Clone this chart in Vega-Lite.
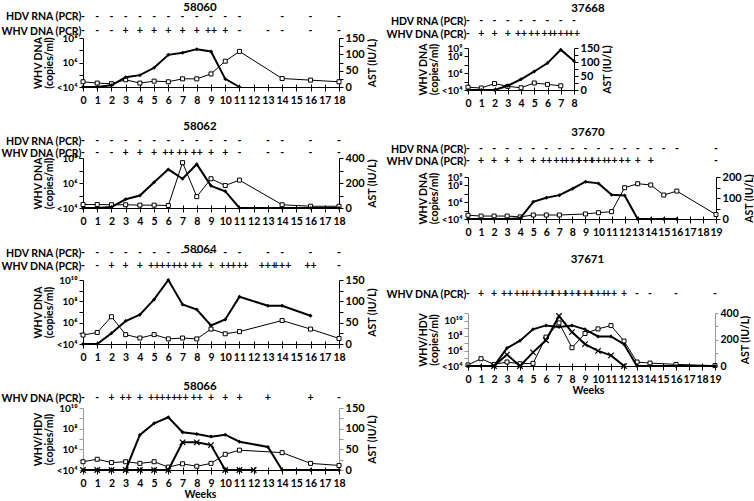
{
"$schema": "https://vega.github.io/schema/vega-lite/v6.json",
"background": "white",
"padding": {"left": 0, "top": 1, "right": 0, "bottom": 0},
"datasets": {
"m": [
{"animal":"58060","week":0,"measure":"WHV","value":10000},
{"animal":"58060","week":1,"measure":"WHV","value":10000},
{"animal":"58060","week":2,"measure":"WHV","value":13800},
{"animal":"58060","week":3,"measure":"WHV","value":63000},
{"animal":"58060","week":4,"measure":"WHV","value":93000},
{"animal":"58060","week":5,"measure":"WHV","value":370000},
{"animal":"58060","week":6,"measure":"WHV","value":4200000},
{"animal":"58060","week":7,"measure":"WHV","value":6300000},
{"animal":"58060","week":8,"measure":"WHV","value":12300000},
{"animal":"58060","week":9,"measure":"WHV","value":7900000},
{"animal":"58060","week":10,"measure":"WHV","value":46000},
{"animal":"58060","week":11,"measure":"WHV","value":10000},
{"animal":"58060","week":0,"measure":"AST","value":16},
{"animal":"58060","week":1,"measure":"AST","value":12},
{"animal":"58060","week":2,"measure":"AST","value":10},
{"animal":"58060","week":3,"measure":"AST","value":22},
{"animal":"58060","week":4,"measure":"AST","value":12},
{"animal":"58060","week":5,"measure":"AST","value":18},
{"animal":"58060","week":6,"measure":"AST","value":16},
{"animal":"58060","week":7,"measure":"AST","value":25},
{"animal":"58060","week":8,"measure":"AST","value":25},
{"animal":"58060","week":9,"measure":"AST","value":40},
{"animal":"58060","week":10,"measure":"AST","value":79},
{"animal":"58060","week":11,"measure":"AST","value":109},
{"animal":"58060","week":14,"measure":"AST","value":26},
{"animal":"58060","week":16,"measure":"AST","value":21},
{"animal":"58060","week":18,"measure":"AST","value":16},
{"animal":"58062","week":0,"measure":"WHV","value":10000},
{"animal":"58062","week":1,"measure":"WHV","value":10000},
{"animal":"58062","week":2,"measure":"WHV","value":12000},
{"animal":"58062","week":3,"measure":"WHV","value":50000},
{"animal":"58062","week":4,"measure":"WHV","value":100000},
{"animal":"58062","week":5,"measure":"WHV","value":1150000},
{"animal":"58062","week":6,"measure":"WHV","value":12300000},
{"animal":"58062","week":7,"measure":"WHV","value":2200000},
{"animal":"58062","week":8,"measure":"WHV","value":32000000},
{"animal":"58062","week":9,"measure":"WHV","value":590000},
{"animal":"58062","week":10,"measure":"WHV","value":220000},
{"animal":"58062","week":11,"measure":"WHV","value":10000},
{"animal":"58062","week":14,"measure":"WHV","value":10000},
{"animal":"58062","week":16,"measure":"WHV","value":10000},
{"animal":"58062","week":18,"measure":"WHV","value":10000},
{"animal":"58062","week":0,"measure":"AST","value":28},
{"animal":"58062","week":1,"measure":"AST","value":28},
{"animal":"58062","week":2,"measure":"AST","value":26},
{"animal":"58062","week":3,"measure":"AST","value":26},
{"animal":"58062","week":4,"measure":"AST","value":23},
{"animal":"58062","week":5,"measure":"AST","value":23},
{"animal":"58062","week":6,"measure":"AST","value":20},
{"animal":"58062","week":7,"measure":"AST","value":363},
{"animal":"58062","week":8,"measure":"AST","value":91},
{"animal":"58062","week":9,"measure":"AST","value":234},
{"animal":"58062","week":10,"measure":"AST","value":180},
{"animal":"58062","week":11,"measure":"AST","value":223},
{"animal":"58062","week":14,"measure":"AST","value":26},
{"animal":"58062","week":16,"measure":"AST","value":14},
{"animal":"58062","week":18,"measure":"AST","value":14},
{"animal":"58064","week":0,"measure":"WHV","value":10000},
{"animal":"58064","week":1,"measure":"WHV","value":10000},
{"animal":"58064","week":2,"measure":"WHV","value":100000},
{"animal":"58064","week":3,"measure":"WHV","value":1400000},
{"animal":"58064","week":4,"measure":"WHV","value":5500000},
{"animal":"58064","week":5,"measure":"WHV","value":150000000},
{"animal":"58064","week":6,"measure":"WHV","value":10000000000},
{"animal":"58064","week":7,"measure":"WHV","value":51000000},
{"animal":"58064","week":8,"measure":"WHV","value":17000000},
{"animal":"58064","week":9,"measure":"WHV","value":540000},
{"animal":"58064","week":10,"measure":"WHV","value":2000000},
{"animal":"58064","week":11,"measure":"WHV","value":270000000},
{"animal":"58064","week":13,"measure":"WHV","value":38000000},
{"animal":"58064","week":14,"measure":"WHV","value":38000000},
{"animal":"58064","week":16,"measure":"WHV","value":4400000},
{"animal":"58064","week":0,"measure":"AST","value":21},
{"animal":"58064","week":1,"measure":"AST","value":27},
{"animal":"58064","week":2,"measure":"AST","value":64},
{"animal":"58064","week":3,"measure":"AST","value":22},
{"animal":"58064","week":4,"measure":"AST","value":14},
{"animal":"58064","week":5,"measure":"AST","value":22},
{"animal":"58064","week":6,"measure":"AST","value":12},
{"animal":"58064","week":7,"measure":"AST","value":14},
{"animal":"58064","week":8,"measure":"AST","value":12},
{"animal":"58064","week":9,"measure":"AST","value":35},
{"animal":"58064","week":10,"measure":"AST","value":24},
{"animal":"58064","week":11,"measure":"AST","value":29},
{"animal":"58064","week":14,"measure":"AST","value":55},
{"animal":"58064","week":16,"measure":"AST","value":35},
{"animal":"58064","week":18,"measure":"AST","value":13},
{"animal":"58066","week":0,"measure":"WHV","value":10000},
{"animal":"58066","week":1,"measure":"WHV","value":10000},
{"animal":"58066","week":2,"measure":"WHV","value":10000},
{"animal":"58066","week":3,"measure":"WHV","value":10000},
{"animal":"58066","week":4,"measure":"WHV","value":25000000},
{"animal":"58066","week":5,"measure":"WHV","value":330000000},
{"animal":"58066","week":6,"measure":"WHV","value":1260000000},
{"animal":"58066","week":7,"measure":"WHV","value":45000000},
{"animal":"58066","week":8,"measure":"WHV","value":30000000},
{"animal":"58066","week":9,"measure":"WHV","value":17000000},
{"animal":"58066","week":10,"measure":"WHV","value":26000000},
{"animal":"58066","week":11,"measure":"WHV","value":5500000},
{"animal":"58066","week":13,"measure":"WHV","value":1700000},
{"animal":"58066","week":14,"measure":"WHV","value":10000},
{"animal":"58066","week":16,"measure":"WHV","value":10000},
{"animal":"58066","week":18,"measure":"WHV","value":10000},
{"animal":"58066","week":0,"measure":"HDV","value":10000},
{"animal":"58066","week":1,"measure":"HDV","value":10000},
{"animal":"58066","week":2,"measure":"HDV","value":10000},
{"animal":"58066","week":3,"measure":"HDV","value":10000},
{"animal":"58066","week":4,"measure":"HDV","value":10000},
{"animal":"58066","week":5,"measure":"HDV","value":10000},
{"animal":"58066","week":6,"measure":"HDV","value":10000},
{"animal":"58066","week":7,"measure":"HDV","value":4800000},
{"animal":"58066","week":8,"measure":"HDV","value":4800000},
{"animal":"58066","week":9,"measure":"HDV","value":2600000},
{"animal":"58066","week":10,"measure":"HDV","value":10000},
{"animal":"58066","week":11,"measure":"HDV","value":10000},
{"animal":"58066","week":12,"measure":"HDV","value":10000},
{"animal":"58066","week":0,"measure":"AST","value":20},
{"animal":"58066","week":1,"measure":"AST","value":26},
{"animal":"58066","week":2,"measure":"AST","value":18},
{"animal":"58066","week":3,"measure":"AST","value":20},
{"animal":"58066","week":4,"measure":"AST","value":16},
{"animal":"58066","week":5,"measure":"AST","value":20},
{"animal":"58066","week":6,"measure":"AST","value":7},
{"animal":"58066","week":7,"measure":"AST","value":15},
{"animal":"58066","week":8,"measure":"AST","value":9},
{"animal":"58066","week":9,"measure":"AST","value":16},
{"animal":"58066","week":10,"measure":"AST","value":38},
{"animal":"58066","week":11,"measure":"AST","value":48},
{"animal":"58066","week":14,"measure":"AST","value":42},
{"animal":"58066","week":16,"measure":"AST","value":16},
{"animal":"58066","week":18,"measure":"AST","value":11},
{"animal":"37668","week":0,"measure":"WHV","value":10000},
{"animal":"37668","week":1,"measure":"WHV","value":10000},
{"animal":"37668","week":2,"measure":"WHV","value":10000},
{"animal":"37668","week":3,"measure":"WHV","value":32000},
{"animal":"37668","week":4,"measure":"WHV","value":190000},
{"animal":"37668","week":5,"measure":"WHV","value":1600000},
{"animal":"37668","week":6,"measure":"WHV","value":16000000},
{"animal":"37668","week":7,"measure":"WHV","value":630000000},
{"animal":"37668","week":8,"measure":"WHV","value":28000000},
{"animal":"37668","week":0,"measure":"AST","value":10},
{"animal":"37668","week":1,"measure":"AST","value":7},
{"animal":"37668","week":2,"measure":"AST","value":23},
{"animal":"37668","week":3,"measure":"AST","value":13},
{"animal":"37668","week":4,"measure":"AST","value":8},
{"animal":"37668","week":5,"measure":"AST","value":25},
{"animal":"37668","week":6,"measure":"AST","value":20},
{"animal":"37668","week":7,"measure":"AST","value":15},
{"animal":"37670","week":0,"measure":"WHV","value":10000},
{"animal":"37670","week":1,"measure":"WHV","value":10000},
{"animal":"37670","week":2,"measure":"WHV","value":10000},
{"animal":"37670","week":3,"measure":"WHV","value":10000},
{"animal":"37670","week":4,"measure":"WHV","value":12000},
{"animal":"37670","week":5,"measure":"WHV","value":1100000},
{"animal":"37670","week":6,"measure":"WHV","value":3300000},
{"animal":"37670","week":7,"measure":"WHV","value":6900000},
{"animal":"37670","week":8,"measure":"WHV","value":40000000},
{"animal":"37670","week":9,"measure":"WHV","value":275000000},
{"animal":"37670","week":10,"measure":"WHV","value":174000000},
{"animal":"37670","week":11,"measure":"WHV","value":7600000},
{"animal":"37670","week":12,"measure":"WHV","value":6300000},
{"animal":"37670","week":13,"measure":"WHV","value":10000},
{"animal":"37670","week":14,"measure":"WHV","value":10000},
{"animal":"37670","week":15,"measure":"WHV","value":10000},
{"animal":"37670","week":16,"measure":"WHV","value":10000},
{"animal":"37670","week":0,"measure":"AST","value":18},
{"animal":"37670","week":1,"measure":"AST","value":14},
{"animal":"37670","week":2,"measure":"AST","value":14},
{"animal":"37670","week":3,"measure":"AST","value":14},
{"animal":"37670","week":4,"measure":"AST","value":10},
{"animal":"37670","week":5,"measure":"AST","value":19},
{"animal":"37670","week":6,"measure":"AST","value":19},
{"animal":"37670","week":7,"measure":"AST","value":19},
{"animal":"37670","week":9,"measure":"AST","value":24},
{"animal":"37670","week":10,"measure":"AST","value":30},
{"animal":"37670","week":11,"measure":"AST","value":35},
{"animal":"37670","week":12,"measure":"AST","value":149},
{"animal":"37670","week":13,"measure":"AST","value":168},
{"animal":"37670","week":14,"measure":"AST","value":162},
{"animal":"37670","week":15,"measure":"AST","value":114},
{"animal":"37670","week":16,"measure":"AST","value":133},
{"animal":"37670","week":19,"measure":"AST","value":21},
{"animal":"37671","week":0,"measure":"WHV","value":10000},
{"animal":"37671","week":1,"measure":"WHV","value":10000},
{"animal":"37671","week":2,"measure":"WHV","value":10000},
{"animal":"37671","week":3,"measure":"WHV","value":2300000},
{"animal":"37671","week":4,"measure":"WHV","value":22000000},
{"animal":"37671","week":5,"measure":"WHV","value":700000000},
{"animal":"37671","week":6,"measure":"WHV","value":2300000000},
{"animal":"37671","week":7,"measure":"WHV","value":1400000000},
{"animal":"37671","week":8,"measure":"WHV","value":2300000000},
{"animal":"37671","week":9,"measure":"WHV","value":700000000},
{"animal":"37671","week":10,"measure":"WHV","value":80000000},
{"animal":"37671","week":11,"measure":"WHV","value":80000000},
{"animal":"37671","week":12,"measure":"WHV","value":7600000},
{"animal":"37671","week":13,"measure":"WHV","value":10000},
{"animal":"37671","week":14,"measure":"WHV","value":10000},
{"animal":"37671","week":16,"measure":"WHV","value":10000},
{"animal":"37671","week":19,"measure":"WHV","value":10000},
{"animal":"37671","week":2,"measure":"HDV","value":10000},
{"animal":"37671","week":3,"measure":"HDV","value":320000},
{"animal":"37671","week":4,"measure":"HDV","value":10000},
{"animal":"37671","week":5,"measure":"HDV","value":630000},
{"animal":"37671","week":6,"measure":"HDV","value":25000000},
{"animal":"37671","week":7,"measure":"HDV","value":40000000000},
{"animal":"37671","week":8,"measure":"HDV","value":300000000},
{"animal":"37671","week":9,"measure":"HDV","value":7900000},
{"animal":"37671","week":10,"measure":"HDV","value":1000000},
{"animal":"37671","week":11,"measure":"HDV","value":250000},
{"animal":"37671","week":12,"measure":"HDV","value":10000},
{"animal":"37671","week":0,"measure":"AST","value":8},
{"animal":"37671","week":1,"measure":"AST","value":55},
{"animal":"37671","week":2,"measure":"AST","value":12},
{"animal":"37671","week":3,"measure":"AST","value":30},
{"animal":"37671","week":4,"measure":"AST","value":17},
{"animal":"37671","week":5,"measure":"AST","value":20},
{"animal":"37671","week":6,"measure":"AST","value":218},
{"animal":"37671","week":7,"measure":"AST","value":325},
{"animal":"37671","week":8,"measure":"AST","value":138},
{"animal":"37671","week":9,"measure":"AST","value":245},
{"animal":"37671","week":10,"measure":"AST","value":280},
{"animal":"37671","week":11,"measure":"AST","value":305},
{"animal":"37671","week":12,"measure":"AST","value":188},
{"animal":"37671","week":13,"measure":"AST","value":30},
{"animal":"37671","week":14,"measure":"AST","value":22},
{"animal":"37671","week":16,"measure":"AST","value":12},
{"animal":"37671","week":19,"measure":"AST","value":3}
],
"pcr": [
{"animal":"58060","assay":"HDV RNA (PCR)","week":0,"result":"-"},
{"animal":"58060","assay":"HDV RNA (PCR)","week":1,"result":"-"},
{"animal":"58060","assay":"HDV RNA (PCR)","week":2,"result":"-"},
{"animal":"58060","assay":"HDV RNA (PCR)","week":3,"result":"-"},
{"animal":"58060","assay":"HDV RNA (PCR)","week":4,"result":"-"},
{"animal":"58060","assay":"HDV RNA (PCR)","week":5,"result":"-"},
{"animal":"58060","assay":"HDV RNA (PCR)","week":6,"result":"-"},
{"animal":"58060","assay":"HDV RNA (PCR)","week":7,"result":"-"},
{"animal":"58060","assay":"HDV RNA (PCR)","week":8,"result":"-"},
{"animal":"58060","assay":"HDV RNA (PCR)","week":9,"result":"-"},
{"animal":"58060","assay":"HDV RNA (PCR)","week":10,"result":"-"},
{"animal":"58060","assay":"HDV RNA (PCR)","week":11,"result":"-"},
{"animal":"58060","assay":"HDV RNA (PCR)","week":14,"result":"-"},
{"animal":"58060","assay":"HDV RNA (PCR)","week":16,"result":"-"},
{"animal":"58060","assay":"HDV RNA (PCR)","week":18,"result":"-"},
{"animal":"58060","assay":"WHV DNA (PCR)","week":0,"result":"-"},
{"animal":"58060","assay":"WHV DNA (PCR)","week":1,"result":"-"},
{"animal":"58060","assay":"WHV DNA (PCR)","week":2,"result":"-"},
{"animal":"58060","assay":"WHV DNA (PCR)","week":3,"result":"+"},
{"animal":"58060","assay":"WHV DNA (PCR)","week":4,"result":"+"},
{"animal":"58060","assay":"WHV DNA (PCR)","week":5,"result":"+"},
{"animal":"58060","assay":"WHV DNA (PCR)","week":6,"result":"+"},
{"animal":"58060","assay":"WHV DNA (PCR)","week":7,"result":"+"},
{"animal":"58060","assay":"WHV DNA (PCR)","week":8,"result":"+"},
{"animal":"58060","assay":"WHV DNA (PCR)","week":9,"result":"++"},
{"animal":"58060","assay":"WHV DNA (PCR)","week":10,"result":"+"},
{"animal":"58060","assay":"WHV DNA (PCR)","week":11,"result":"-"},
{"animal":"58060","assay":"WHV DNA (PCR)","week":13,"result":"-"},
{"animal":"58060","assay":"WHV DNA (PCR)","week":14,"result":"-"},
{"animal":"58060","assay":"WHV DNA (PCR)","week":16,"result":"-"},
{"animal":"58060","assay":"WHV DNA (PCR)","week":18,"result":"-"},
{"animal":"58062","assay":"HDV RNA (PCR)","week":0,"result":"-"},
{"animal":"58062","assay":"HDV RNA (PCR)","week":1,"result":"-"},
{"animal":"58062","assay":"HDV RNA (PCR)","week":2,"result":"-"},
{"animal":"58062","assay":"HDV RNA (PCR)","week":3,"result":"-"},
{"animal":"58062","assay":"HDV RNA (PCR)","week":4,"result":"-"},
{"animal":"58062","assay":"HDV RNA (PCR)","week":5,"result":"-"},
{"animal":"58062","assay":"HDV RNA (PCR)","week":6,"result":"-"},
{"animal":"58062","assay":"HDV RNA (PCR)","week":7,"result":"-"},
{"animal":"58062","assay":"HDV RNA (PCR)","week":8,"result":"-"},
{"animal":"58062","assay":"HDV RNA (PCR)","week":9,"result":"-"},
{"animal":"58062","assay":"HDV RNA (PCR)","week":10,"result":"-"},
{"animal":"58062","assay":"HDV RNA (PCR)","week":11,"result":"-"},
{"animal":"58062","assay":"HDV RNA (PCR)","week":13,"result":"-"},
{"animal":"58062","assay":"HDV RNA (PCR)","week":14,"result":"-"},
{"animal":"58062","assay":"HDV RNA (PCR)","week":16,"result":"-"},
{"animal":"58062","assay":"HDV RNA (PCR)","week":18,"result":"-"},
{"animal":"58062","assay":"WHV DNA (PCR)","week":0,"result":"-"},
{"animal":"58062","assay":"WHV DNA (PCR)","week":1,"result":"-"},
{"animal":"58062","assay":"WHV DNA (PCR)","week":2,"result":"-"},
{"animal":"58062","assay":"WHV DNA (PCR)","week":3,"result":"+"},
{"animal":"58062","assay":"WHV DNA (PCR)","week":4,"result":"+"},
{"animal":"58062","assay":"WHV DNA (PCR)","week":5,"result":"+"},
{"animal":"58062","assay":"WHV DNA (PCR)","week":6,"result":"++"},
{"animal":"58062","assay":"WHV DNA (PCR)","week":7,"result":"++"},
{"animal":"58062","assay":"WHV DNA (PCR)","week":8,"result":"++"},
{"animal":"58062","assay":"WHV DNA (PCR)","week":9,"result":"+"},
{"animal":"58062","assay":"WHV DNA (PCR)","week":10,"result":"+"},
{"animal":"58062","assay":"WHV DNA (PCR)","week":11,"result":"-"},
{"animal":"58062","assay":"WHV DNA (PCR)","week":13,"result":"-"},
{"animal":"58062","assay":"WHV DNA (PCR)","week":14,"result":"-"},
{"animal":"58062","assay":"WHV DNA (PCR)","week":16,"result":"-"},
{"animal":"58062","assay":"WHV DNA (PCR)","week":18,"result":"-"},
{"animal":"58064","assay":"HDV RNA (PCR)","week":0,"result":"-"},
{"animal":"58064","assay":"HDV RNA (PCR)","week":1,"result":"-"},
{"animal":"58064","assay":"HDV RNA (PCR)","week":2,"result":"-"},
{"animal":"58064","assay":"HDV RNA (PCR)","week":3,"result":"-"},
{"animal":"58064","assay":"HDV RNA (PCR)","week":4,"result":"-"},
{"animal":"58064","assay":"HDV RNA (PCR)","week":5,"result":"-"},
{"animal":"58064","assay":"HDV RNA (PCR)","week":6,"result":"-"},
{"animal":"58064","assay":"HDV RNA (PCR)","week":7,"result":"-"},
{"animal":"58064","assay":"HDV RNA (PCR)","week":8,"result":"-"},
{"animal":"58064","assay":"HDV RNA (PCR)","week":9,"result":"-"},
{"animal":"58064","assay":"HDV RNA (PCR)","week":10,"result":"-"},
{"animal":"58064","assay":"HDV RNA (PCR)","week":11,"result":"-"},
{"animal":"58064","assay":"HDV RNA (PCR)","week":13,"result":"-"},
{"animal":"58064","assay":"HDV RNA (PCR)","week":14,"result":"-"},
{"animal":"58064","assay":"HDV RNA (PCR)","week":16,"result":"-"},
{"animal":"58064","assay":"HDV RNA (PCR)","week":18,"result":"-"},
{"animal":"58064","assay":"WHV DNA (PCR)","week":0,"result":"-"},
{"animal":"58064","assay":"WHV DNA (PCR)","week":1,"result":"-"},
{"animal":"58064","assay":"WHV DNA (PCR)","week":2,"result":"+"},
{"animal":"58064","assay":"WHV DNA (PCR)","week":3,"result":"+"},
{"animal":"58064","assay":"WHV DNA (PCR)","week":4,"result":"+"},
{"animal":"58064","assay":"WHV DNA (PCR)","week":5,"result":"++"},
{"animal":"58064","assay":"WHV DNA (PCR)","week":6,"result":"+++"},
{"animal":"58064","assay":"WHV DNA (PCR)","week":7,"result":"++"},
{"animal":"58064","assay":"WHV DNA (PCR)","week":8,"result":"++"},
{"animal":"58064","assay":"WHV DNA (PCR)","week":9,"result":"+"},
{"animal":"58064","assay":"WHV DNA (PCR)","week":10,"result":"++"},
{"animal":"58064","assay":"WHV DNA (PCR)","week":11,"result":"+++"},
{"animal":"58064","assay":"WHV DNA (PCR)","week":13,"result":"+++"},
{"animal":"58064","assay":"WHV DNA (PCR)","week":14,"result":"+++"},
{"animal":"58064","assay":"WHV DNA (PCR)","week":16,"result":"++"},
{"animal":"58064","assay":"WHV DNA (PCR)","week":18,"result":"-"},
{"animal":"58066","assay":"WHV DNA (PCR)","week":0,"result":"-"},
{"animal":"58066","assay":"WHV DNA (PCR)","week":1,"result":"-"},
{"animal":"58066","assay":"WHV DNA (PCR)","week":2,"result":"+"},
{"animal":"58066","assay":"WHV DNA (PCR)","week":3,"result":"++"},
{"animal":"58066","assay":"WHV DNA (PCR)","week":4,"result":"+"},
{"animal":"58066","assay":"WHV DNA (PCR)","week":5,"result":"++"},
{"animal":"58066","assay":"WHV DNA (PCR)","week":6,"result":"+++"},
{"animal":"58066","assay":"WHV DNA (PCR)","week":7,"result":"++"},
{"animal":"58066","assay":"WHV DNA (PCR)","week":8,"result":"++"},
{"animal":"58066","assay":"WHV DNA (PCR)","week":9,"result":"+"},
{"animal":"58066","assay":"WHV DNA (PCR)","week":10,"result":"+"},
{"animal":"58066","assay":"WHV DNA (PCR)","week":11,"result":"+"},
{"animal":"58066","assay":"WHV DNA (PCR)","week":13,"result":"+"},
{"animal":"58066","assay":"WHV DNA (PCR)","week":16,"result":"+"},
{"animal":"58066","assay":"WHV DNA (PCR)","week":18,"result":"-"},
{"animal":"37668","assay":"HDV RNA (PCR)","week":0,"result":"-"},
{"animal":"37668","assay":"HDV RNA (PCR)","week":1,"result":"-"},
{"animal":"37668","assay":"HDV RNA (PCR)","week":2,"result":"-"},
{"animal":"37668","assay":"HDV RNA (PCR)","week":3,"result":"-"},
{"animal":"37668","assay":"HDV RNA (PCR)","week":4,"result":"-"},
{"animal":"37668","assay":"HDV RNA (PCR)","week":5,"result":"-"},
{"animal":"37668","assay":"HDV RNA (PCR)","week":6,"result":"-"},
{"animal":"37668","assay":"HDV RNA (PCR)","week":7,"result":"-"},
{"animal":"37668","assay":"HDV RNA (PCR)","week":8,"result":"-"},
{"animal":"37668","assay":"WHV DNA (PCR)","week":0,"result":"-"},
{"animal":"37668","assay":"WHV DNA (PCR)","week":1,"result":"+"},
{"animal":"37668","assay":"WHV DNA (PCR)","week":2,"result":"+"},
{"animal":"37668","assay":"WHV DNA (PCR)","week":3,"result":"+"},
{"animal":"37668","assay":"WHV DNA (PCR)","week":4,"result":"++"},
{"animal":"37668","assay":"WHV DNA (PCR)","week":5,"result":"++"},
{"animal":"37668","assay":"WHV DNA (PCR)","week":6,"result":"++"},
{"animal":"37668","assay":"WHV DNA (PCR)","week":7,"result":"+++"},
{"animal":"37668","assay":"WHV DNA (PCR)","week":8,"result":"++"},
{"animal":"37670","assay":"HDV RNA (PCR)","week":0,"result":"-"},
{"animal":"37670","assay":"HDV RNA (PCR)","week":1,"result":"-"},
{"animal":"37670","assay":"HDV RNA (PCR)","week":2,"result":"-"},
{"animal":"37670","assay":"HDV RNA (PCR)","week":3,"result":"-"},
{"animal":"37670","assay":"HDV RNA (PCR)","week":4,"result":"-"},
{"animal":"37670","assay":"HDV RNA (PCR)","week":5,"result":"-"},
{"animal":"37670","assay":"HDV RNA (PCR)","week":6,"result":"-"},
{"animal":"37670","assay":"HDV RNA (PCR)","week":7,"result":"-"},
{"animal":"37670","assay":"HDV RNA (PCR)","week":8,"result":"-"},
{"animal":"37670","assay":"HDV RNA (PCR)","week":9,"result":"-"},
{"animal":"37670","assay":"HDV RNA (PCR)","week":10,"result":"-"},
{"animal":"37670","assay":"HDV RNA (PCR)","week":11,"result":"-"},
{"animal":"37670","assay":"HDV RNA (PCR)","week":12,"result":"-"},
{"animal":"37670","assay":"HDV RNA (PCR)","week":13,"result":"-"},
{"animal":"37670","assay":"HDV RNA (PCR)","week":14,"result":"-"},
{"animal":"37670","assay":"HDV RNA (PCR)","week":15,"result":"-"},
{"animal":"37670","assay":"HDV RNA (PCR)","week":16,"result":"-"},
{"animal":"37670","assay":"HDV RNA (PCR)","week":19,"result":"-"},
{"animal":"37670","assay":"WHV DNA (PCR)","week":0,"result":"-"},
{"animal":"37670","assay":"WHV DNA (PCR)","week":1,"result":"+"},
{"animal":"37670","assay":"WHV DNA (PCR)","week":2,"result":"+"},
{"animal":"37670","assay":"WHV DNA (PCR)","week":3,"result":"+"},
{"animal":"37670","assay":"WHV DNA (PCR)","week":4,"result":"+"},
{"animal":"37670","assay":"WHV DNA (PCR)","week":5,"result":"+"},
{"animal":"37670","assay":"WHV DNA (PCR)","week":6,"result":"++"},
{"animal":"37670","assay":"WHV DNA (PCR)","week":7,"result":"++"},
{"animal":"37670","assay":"WHV DNA (PCR)","week":8,"result":"+++"},
{"animal":"37670","assay":"WHV DNA (PCR)","week":9,"result":"+++"},
{"animal":"37670","assay":"WHV DNA (PCR)","week":10,"result":"+++"},
{"animal":"37670","assay":"WHV DNA (PCR)","week":11,"result":"++"},
{"animal":"37670","assay":"WHV DNA (PCR)","week":12,"result":"++"},
{"animal":"37670","assay":"WHV DNA (PCR)","week":13,"result":"+"},
{"animal":"37670","assay":"WHV DNA (PCR)","week":14,"result":"+"},
{"animal":"37670","assay":"WHV DNA (PCR)","week":19,"result":"-"},
{"animal":"37671","assay":"WHV DNA (PCR)","week":0,"result":"-"},
{"animal":"37671","assay":"WHV DNA (PCR)","week":1,"result":"+"},
{"animal":"37671","assay":"WHV DNA (PCR)","week":2,"result":"+"},
{"animal":"37671","assay":"WHV DNA (PCR)","week":3,"result":"++"},
{"animal":"37671","assay":"WHV DNA (PCR)","week":4,"result":"++"},
{"animal":"37671","assay":"WHV DNA (PCR)","week":5,"result":"+++"},
{"animal":"37671","assay":"WHV DNA (PCR)","week":6,"result":"+++"},
{"animal":"37671","assay":"WHV DNA (PCR)","week":7,"result":"+++"},
{"animal":"37671","assay":"WHV DNA (PCR)","week":8,"result":"+++"},
{"animal":"37671","assay":"WHV DNA (PCR)","week":9,"result":"+++"},
{"animal":"37671","assay":"WHV DNA (PCR)","week":10,"result":"+++"},
{"animal":"37671","assay":"WHV DNA (PCR)","week":11,"result":"++"},
{"animal":"37671","assay":"WHV DNA (PCR)","week":12,"result":"+"},
{"animal":"37671","assay":"WHV DNA (PCR)","week":13,"result":"-"},
{"animal":"37671","assay":"WHV DNA (PCR)","week":14,"result":"-"},
{"animal":"37671","assay":"WHV DNA (PCR)","week":16,"result":"-"},
{"animal":"37671","assay":"WHV DNA (PCR)","week":19,"result":"-"}
]
},
"spacing": 7,
"bounds": "full",
"resolve": {"scale": {"x": "independent", "y": "independent"}},
"hconcat": [
{
"spacing": 0,
"bounds": "flush",
"resolve": {"scale": {"x": "independent", "y": "independent"}},
"vconcat": [
{
"width": 256, "height": 30,
"data": {"name": "pcr"},
"transform": [{"filter": "datum.animal == '58060'"}],
"mark": {"type": "text"},
"encoding": {
"x": {"field": "week", "type": "quantitative", "scale": {"domain": [0, 18], "nice": false, "zero": false}, "axis": null},
"y": {"field": "assay", "type": "nominal", "scale": {"type": "point", "domain": ["HDV RNA (PCR)", "WHV DNA (PCR)"], "range": [8.5, 23], "padding": 0}, "axis": {"title": null, "domain": false, "ticks": false, "labelPadding": 2}},
"text": {"field": "result"}
}
},
{
"width": 256, "height": 49,
"title": {"text": "58060", "offset": 18.6, "dx": -11},
"data": {"name": "m"},
"transform": [{"filter": "datum.animal == '58060'"}],
"layer": [
{
"transform": [{"filter": "datum.measure == 'AST'"}],
"mark": {"type": "line", "color": "black", "strokeWidth": 1, "point": {"shape": "square", "size": 16, "filled": true, "fill": "white", "stroke": "black", "strokeWidth": 1}},
"encoding": {
"x": {"field": "week", "type": "quantitative", "scale": {"domain": [0, 18], "nice": false, "zero": false}, "axis": {"orient": "bottom", "values": [0,1,2,3,4,5,6,7,8,9,10,11,12,13,14,15,16,17,18], "title": null, "labelPadding": 4}},
"y": {"field": "value", "type": "quantitative", "scale": {"domain": [0, 150], "nice": false}, "axis": {"orient": "right", "title": "AST (IU/L)", "titleAngle": 270, "titleBaseline": "top", "titlePadding": 3, "values": [0,25,50,75,100,125,150], "labelExpr": "datum.value % 50 == 0 ? datum.label : ''", "labelFontSize": 11}}
}
},
{
"transform": [{"filter": "datum.measure == 'WHV'"}],
"mark": {"type": "line", "color": "black", "strokeWidth": 2, "point": {"shape": "diamond", "size": 16, "filled": true, "color": "black"}},
"encoding": {
"x": {"field": "week", "type": "quantitative", "axis": {"orient": "bottom", "values": [0,1,2,3,4,5,6,7,8,9,10,11,12,13,14,15,16,17,18], "labels": false, "domain": false, "tickSize": -3, "title": null}},
"y": {"field": "value", "type": "quantitative", "scale": {"type": "log", "domain": [10000, 100000000], "nice": false}, "axis": {"orient": "left", "title": ["WHV DNA", "(copies/ml)"], "titlePadding": 2, "titleLineHeight": 11, "values": [10000,100000,1000000,10000000,100000000], "labelExpr": "datum.value == 10000 ? '<10⁴' : datum.value == 1000000 ? '10⁶' : datum.value == 100000000 ? '10⁸' : ''", "labelFontSize": 10}}
}
}
],
"resolve": {"scale": {"y": "independent"}, "axis": {"x": "independent"}}
},
{
"width": 256, "height": 71,
"data": {"name": "pcr"},
"transform": [{"filter": "datum.animal == '58062'"}],
"mark": {"type": "text"},
"encoding": {
"x": {"field": "week", "type": "quantitative", "scale": {"domain": [0, 18], "nice": false, "zero": false}, "axis": null},
"y": {"field": "assay", "type": "nominal", "scale": {"type": "point", "domain": ["HDV RNA (PCR)", "WHV DNA (PCR)"], "range": [54, 66], "padding": 0}, "axis": {"title": null, "domain": false, "ticks": false, "labelPadding": 2}},
"text": {"field": "result"}
}
},
{
"width": 256, "height": 50,
"title": {"text": "58062", "offset": 20, "dx": -11},
"data": {"name": "m"},
"transform": [{"filter": "datum.animal == '58062'"}],
"layer": [
{
"transform": [{"filter": "datum.measure == 'AST'"}],
"mark": {"type": "line", "color": "black", "strokeWidth": 1, "point": {"shape": "square", "size": 16, "filled": true, "fill": "white", "stroke": "black", "strokeWidth": 1}},
"encoding": {
"x": {"field": "week", "type": "quantitative", "scale": {"domain": [0, 18], "nice": false, "zero": false}, "axis": {"orient": "bottom", "values": [0,1,2,3,4,5,6,7,8,9,10,11,12,13,14,15,16,17,18], "title": null, "labelPadding": 4}},
"y": {"field": "value", "type": "quantitative", "scale": {"domain": [0, 400], "nice": false}, "axis": {"orient": "right", "title": "AST (IU/L)", "titleAngle": 270, "titleBaseline": "top", "titlePadding": 3, "values": [0,100,200,300,400], "labelExpr": "datum.value % 200 == 0 ? datum.label : ''", "labelFontSize": 11}}
}
},
{
"transform": [{"filter": "datum.measure == 'WHV'"}],
"mark": {"type": "line", "color": "black", "strokeWidth": 2, "point": {"shape": "diamond", "size": 16, "filled": true, "color": "black"}},
"encoding": {
"x": {"field": "week", "type": "quantitative", "axis": {"orient": "bottom", "values": [0,1,2,3,4,5,6,7,8,9,10,11,12,13,14,15,16,17,18], "labels": false, "domain": false, "tickSize": -3, "title": null}},
"y": {"field": "value", "type": "quantitative", "scale": {"type": "log", "domain": [10000, 100000000], "nice": false}, "axis": {"orient": "left", "title": ["WHV DNA", "(copies/ml)"], "titlePadding": 2, "titleLineHeight": 11, "values": [10000,100000,1000000,10000000,100000000], "labelExpr": "datum.value == 10000 ? '<10⁴' : datum.value == 1000000 ? '10⁶' : datum.value == 100000000 ? '10⁸' : ''", "labelFontSize": 10}}
}
}
],
"resolve": {"scale": {"y": "independent"}, "axis": {"x": "independent"}}
},
{
"width": 256, "height": 72,
"data": {"name": "pcr"},
"transform": [{"filter": "datum.animal == '58064'"}],
"mark": {"type": "text"},
"encoding": {
"x": {"field": "week", "type": "quantitative", "scale": {"domain": [0, 18], "nice": false, "zero": false}, "axis": null},
"y": {"field": "assay", "type": "nominal", "scale": {"type": "point", "domain": ["HDV RNA (PCR)", "WHV DNA (PCR)"], "range": [45, 58], "padding": 0}, "axis": {"title": null, "domain": false, "ticks": false, "labelPadding": 2}},
"text": {"field": "result"}
}
},
{
"width": 256, "height": 64,
"title": {"text": "58064", "offset": 18.6, "dx": -11},
"data": {"name": "m"},
"transform": [{"filter": "datum.animal == '58064'"}],
"layer": [
{
"transform": [{"filter": "datum.measure == 'AST'"}],
"mark": {"type": "line", "color": "black", "strokeWidth": 1, "point": {"shape": "square", "size": 16, "filled": true, "fill": "white", "stroke": "black", "strokeWidth": 1}},
"encoding": {
"x": {"field": "week", "type": "quantitative", "scale": {"domain": [0, 18], "nice": false, "zero": false}, "axis": {"orient": "bottom", "values": [0,1,2,3,4,5,6,7,8,9,10,11,12,13,14,15,16,17,18], "title": null, "labelPadding": 4}},
"y": {"field": "value", "type": "quantitative", "scale": {"domain": [0, 150], "nice": false}, "axis": {"orient": "right", "title": "AST (IU/L)", "titleAngle": 270, "titleBaseline": "top", "titlePadding": 3, "values": [0,25,50,75,100,125,150], "labelExpr": "datum.value % 50 == 0 ? datum.label : ''", "labelFontSize": 11}}
}
},
{
"transform": [{"filter": "datum.measure == 'WHV'"}],
"mark": {"type": "line", "color": "black", "strokeWidth": 2, "point": {"shape": "diamond", "size": 16, "filled": true, "color": "black"}},
"encoding": {
"x": {"field": "week", "type": "quantitative", "axis": {"orient": "bottom", "values": [0,1,2,3,4,5,6,7,8,9,10,11,12,13,14,15,16,17,18], "labels": false, "domain": false, "tickSize": -3, "title": null}},
"y": {"field": "value", "type": "quantitative", "scale": {"type": "log", "domain": [10000, 10000000000], "nice": false}, "axis": {"orient": "left", "title": ["WHV DNA", "(copies/ml)"], "titlePadding": 2, "titleLineHeight": 11, "values": [10000,100000,1000000,10000000,100000000,1000000000,10000000000], "labelExpr": "datum.value == 10000 ? '<10⁴' : datum.value == 1000000 ? '10⁶' : datum.value == 100000000 ? '10⁸' : datum.value == 10000000000 ? '10¹⁰' : ''", "labelFontSize": 10}}
}
}
],
"resolve": {"scale": {"y": "independent"}, "axis": {"x": "independent"}}
},
{
"width": 256, "height": 64,
"data": {"name": "pcr"},
"transform": [{"filter": "datum.animal == '58066'"}],
"mark": {"type": "text"},
"encoding": {
"x": {"field": "week", "type": "quantitative", "scale": {"domain": [0, 18], "nice": false, "zero": false}, "axis": null},
"y": {"field": "assay", "type": "nominal", "scale": {"type": "point", "domain": ["WHV DNA (PCR)"], "range": [54, 54], "padding": 0}, "axis": {"title": null, "domain": false, "ticks": false, "labelPadding": 2}},
"text": {"field": "result"}
}
},
{
"width": 256, "height": 62,
"title": {"text": "58066", "offset": 10, "dx": -11},
"data": {"name": "m"},
"transform": [{"filter": "datum.animal == '58066'"}],
"layer": [
{
"transform": [{"filter": "datum.measure == 'AST'"}],
"mark": {"type": "line", "color": "black", "strokeWidth": 1, "point": {"shape": "square", "size": 16, "filled": true, "fill": "white", "stroke": "black", "strokeWidth": 1}},
"encoding": {
"x": {"field": "week", "type": "quantitative", "scale": {"domain": [0, 18], "nice": false, "zero": false}, "axis": {"orient": "bottom", "values": [0,1,2,3,4,5,6,7,8,9,10,11,12,13,14,15,16,17,18], "title": "Weeks", "titlePadding": 1, "titleX": 117, "labelPadding": 4}},
"y": {"field": "value", "type": "quantitative", "scale": {"domain": [0, 150], "nice": false}, "axis": {"orient": "right", "title": "AST (IU/L)", "titleAngle": 270, "titleBaseline": "top", "titlePadding": 3, "values": [0,25,50,75,100,125,150], "labelExpr": "datum.value % 50 == 0 ? datum.label : ''", "labelFontSize": 11, "domainColor": "#999999", "tickColor": "#999999"}}
}
},
{
"transform": [{"filter": "datum.measure == 'WHV'"}],
"mark": {"type": "line", "color": "black", "strokeWidth": 2, "point": {"shape": "diamond", "size": 16, "filled": true, "color": "black"}},
"encoding": {
"x": {"field": "week", "type": "quantitative", "axis": {"orient": "bottom", "values": [0,1,2,3,4,5,6,7,8,9,10,11,12,13,14,15,16,17,18], "labels": false, "domain": false, "tickSize": -3, "title": null}},
"y": {"field": "value", "type": "quantitative", "scale": {"type": "log", "domain": [10000, 10000000000], "nice": false}, "axis": {"orient": "left", "title": ["WHV/HDV", "(copies/ml)"], "titlePadding": 2, "titleLineHeight": 11, "values": [10000,100000,1000000,10000000,100000000,1000000000,10000000000], "labelExpr": "datum.value == 10000 ? '<10⁴' : datum.value == 1000000 ? '10⁶' : datum.value == 100000000 ? '10⁸' : datum.value == 10000000000 ? '10¹⁰' : ''", "labelFontSize": 10, "domainColor": "#999999", "tickColor": "#999999"}}
}
},
{
"transform": [{"filter": "datum.measure == 'HDV'"}],
"mark": {"type": "line", "color": "black", "strokeWidth": 2, "point": {"shape": "M-1,-1L1,1M-1,1L1,-1", "size": 30, "filled": false, "stroke": "black", "strokeWidth": 1.2}},
"encoding": {
"x": {"field": "week", "type": "quantitative", "axis": null},
"y": {"field": "value", "type": "quantitative", "scale": {"type": "log", "domain": [10000, 10000000000], "nice": false}, "axis": null}
}
}
],
"resolve": {"scale": {"y": "independent"}, "axis": {"x": "independent"}}
}
]
},
{
"spacing": 0,
"bounds": "flush",
"resolve": {"scale": {"x": "independent", "y": "independent"}},
"vconcat": [
{
"width": 106, "height": 40,
"data": {"name": "pcr"},
"transform": [{"filter": "datum.animal == '37668'"}],
"mark": {"type": "text"},
"encoding": {
"x": {"field": "week", "type": "quantitative", "scale": {"domain": [0, 8], "nice": false, "zero": false}, "axis": null},
"y": {"field": "assay", "type": "nominal", "scale": {"type": "point", "domain": ["HDV RNA (PCR)", "WHV DNA (PCR)"], "range": [13, 26], "padding": 0}, "axis": {"title": null, "domain": false, "ticks": false, "labelPadding": 2}},
"text": {"field": "result"}
}
},
{
"width": 106, "height": 42,
"title": {"text": "37668", "offset": 28, "dx": 67},
"data": {"name": "m"},
"transform": [{"filter": "datum.animal == '37668'"}],
"layer": [
{
"transform": [{"filter": "datum.measure == 'AST'"}],
"mark": {"type": "line", "color": "black", "strokeWidth": 1, "point": {"shape": "square", "size": 16, "filled": true, "fill": "white", "stroke": "black", "strokeWidth": 1}},
"encoding": {
"x": {"field": "week", "type": "quantitative", "scale": {"domain": [0, 8], "nice": false, "zero": false}, "axis": {"orient": "bottom", "values": [0,1,2,3,4,5,6,7,8], "title": null, "labelPadding": 4}},
"y": {"field": "value", "type": "quantitative", "scale": {"domain": [0, 150], "nice": false}, "axis": {"orient": "right", "title": "AST (IU/L)", "titleAngle": 270, "titleBaseline": "top", "titlePadding": 3, "values": [0,25,50,75,100,125,150], "labelExpr": "datum.value % 50 == 0 ? datum.label : ''", "labelFontSize": 11}}
}
},
{
"transform": [{"filter": "datum.measure == 'WHV'"}],
"mark": {"type": "line", "color": "black", "strokeWidth": 2, "point": {"shape": "diamond", "size": 16, "filled": true, "color": "black"}},
"encoding": {
"x": {"field": "week", "type": "quantitative", "axis": {"orient": "bottom", "values": [0,1,2,3,4,5,6,7,8], "labels": false, "domain": false, "tickSize": -3, "title": null}},
"y": {"field": "value", "type": "quantitative", "scale": {"type": "log", "domain": [10000, 1000000000], "nice": false}, "axis": {"orient": "left", "title": ["WHV DNA", "(copies/ml)"], "titlePadding": 2, "titleLineHeight": 11, "values": [10000,100000,1000000,10000000,100000000,1000000000], "labelExpr": "datum.value == 10000 ? '<10⁴' : datum.value == 1000000 ? '10⁶' : datum.value == 100000000 ? '10⁸' : datum.value == 1000000000 ? '10⁹' : ''", "labelFontSize": 10}}
}
}
],
"resolve": {"scale": {"y": "independent"}, "axis": {"x": "independent"}}
},
{
"width": 248, "height": 87,
"data": {"name": "pcr"},
"transform": [{"filter": "datum.animal == '37670'"}],
"mark": {"type": "text"},
"encoding": {
"x": {"field": "week", "type": "quantitative", "scale": {"domain": [0, 19], "nice": false, "zero": false}, "axis": null},
"y": {"field": "assay", "type": "nominal", "scale": {"type": "point", "domain": ["HDV RNA (PCR)", "WHV DNA (PCR)"], "range": [59, 71], "padding": 0}, "axis": {"title": null, "domain": false, "ticks": false, "labelPadding": 2}},
"text": {"field": "result"}
}
},
{
"width": 248, "height": 42,
"title": {"text": "37670", "offset": 33, "dx": -4},
"data": {"name": "m"},
"transform": [{"filter": "datum.animal == '37670'"}],
"layer": [
{
"transform": [{"filter": "datum.measure == 'AST'"}],
"mark": {"type": "line", "color": "black", "strokeWidth": 1, "point": {"shape": "square", "size": 16, "filled": true, "fill": "white", "stroke": "black", "strokeWidth": 1}},
"encoding": {
"x": {"field": "week", "type": "quantitative", "scale": {"domain": [0, 19], "nice": false, "zero": false}, "axis": {"orient": "bottom", "values": [0,1,2,3,4,5,6,7,8,9,10,11,12,13,14,15,16,17,18,19], "title": null, "labelPadding": 4}},
"y": {"field": "value", "type": "quantitative", "scale": {"domain": [0, 200], "nice": false}, "axis": {"orient": "right", "title": "AST (IU/L)", "titleAngle": 270, "titleBaseline": "top", "titlePadding": 3, "values": [0,50,100,150,200], "labelExpr": "datum.value % 100 == 0 ? datum.label : ''", "labelFontSize": 11}}
}
},
{
"transform": [{"filter": "datum.measure == 'WHV'"}],
"mark": {"type": "line", "color": "black", "strokeWidth": 2, "point": {"shape": "diamond", "size": 16, "filled": true, "color": "black"}},
"encoding": {
"x": {"field": "week", "type": "quantitative", "axis": {"orient": "bottom", "values": [0,1,2,3,4,5,6,7,8,9,10,11,12,13,14,15,16,17,18,19], "labels": false, "domain": false, "tickSize": -3, "title": null}},
"y": {"field": "value", "type": "quantitative", "scale": {"type": "log", "domain": [10000, 1000000000], "nice": false}, "axis": {"orient": "left", "title": ["WHV DNA", "(copies/ml)"], "titlePadding": 2, "titleLineHeight": 11, "values": [10000,100000,1000000,10000000,100000000,1000000000], "labelExpr": "datum.value == 10000 ? '<10⁴' : datum.value == 1000000 ? '10⁶' : datum.value == 100000000 ? '10⁸' : datum.value == 1000000000 ? '10⁹' : ''", "labelFontSize": 10}}
}
}
],
"resolve": {"scale": {"y": "independent"}, "axis": {"x": "independent"}}
},
{
"width": 247, "height": 94,
"data": {"name": "pcr"},
"transform": [{"filter": "datum.animal == '37671'"}],
"mark": {"type": "text"},
"encoding": {
"x": {"field": "week", "type": "quantitative", "scale": {"domain": [0, 19], "nice": false, "zero": false}, "axis": null},
"y": {"field": "assay", "type": "nominal", "scale": {"type": "point", "domain": ["WHV DNA (PCR)"], "range": [75, 75], "padding": 0}, "axis": {"title": null, "domain": false, "ticks": false, "labelPadding": 2}},
"text": {"field": "result"}
}
},
{
"width": 247, "height": 53,
"title": {"text": "37671", "offset": 42.6, "dx": -4},
"data": {"name": "m"},
"transform": [{"filter": "datum.animal == '37671'"}],
"layer": [
{
"transform": [{"filter": "datum.measure == 'AST'"}],
"mark": {"type": "line", "color": "black", "strokeWidth": 1, "point": {"shape": "square", "size": 16, "filled": true, "fill": "white", "stroke": "black", "strokeWidth": 1}},
"encoding": {
"x": {"field": "week", "type": "quantitative", "scale": {"domain": [0, 19], "nice": false, "zero": false}, "axis": {"orient": "bottom", "values": [0,1,2,3,4,5,6,7,8,9,10,11,12,13,14,15,16,17,18,19], "title": "Weeks", "titlePadding": 1, "titleX": 120, "labelPadding": 4}},
"y": {"field": "value", "type": "quantitative", "scale": {"domain": [0, 400], "nice": false}, "axis": {"orient": "right", "title": "AST (IU/L)", "titleAngle": 270, "titleBaseline": "top", "titlePadding": 2, "tickSize": 3, "values": [0,100,200,300,400], "labelExpr": "datum.value % 200 == 0 ? datum.label : ''", "labelFontSize": 10.5, "domainColor": "#999999", "tickColor": "#999999"}}
}
},
{
"transform": [{"filter": "datum.measure == 'WHV'"}],
"mark": {"type": "line", "color": "black", "strokeWidth": 2, "point": {"shape": "diamond", "size": 16, "filled": true, "color": "black"}},
"encoding": {
"x": {"field": "week", "type": "quantitative", "axis": {"orient": "bottom", "values": [0,1,2,3,4,5,6,7,8,9,10,11,12,13,14,15,16,17,18,19], "labels": false, "domain": false, "tickSize": -3, "title": null}},
"y": {"field": "value", "type": "quantitative", "scale": {"type": "log", "domain": [10000, 100000000000], "nice": false}, "axis": {"orient": "left", "title": ["WHV/HDV", "(copies/ml)"], "titlePadding": 2, "titleLineHeight": 11, "values": [10000,100000,1000000,10000000,100000000,1000000000,10000000000,100000000000], "labelExpr": "datum.value == 10000 ? '<10⁴' : datum.value == 1000000 ? '10⁶' : datum.value == 100000000 ? '10⁸' : datum.value == 10000000000 ? '10¹⁰' : ''", "labelFontSize": 10, "domainColor": "#999999", "tickColor": "#999999"}}
}
},
{
"transform": [{"filter": "datum.measure == 'HDV'"}],
"mark": {"type": "line", "color": "black", "strokeWidth": 2, "point": {"shape": "M-1,-1L1,1M-1,1L1,-1", "size": 30, "filled": false, "stroke": "black", "strokeWidth": 1.2}},
"encoding": {
"x": {"field": "week", "type": "quantitative", "axis": null},
"y": {"field": "value", "type": "quantitative", "scale": {"type": "log", "domain": [10000, 100000000000], "nice": false}, "axis": null}
}
}
],
"resolve": {"scale": {"y": "independent"}, "axis": {"x": "independent"}}
}
]
}
],
"config": {
"view": {"stroke": null},
"font": "Lato",
"axis": {"grid": false, "domainColor": "black", "tickColor": "black", "labelColor": "black", "titleColor": "black", "labelFont": "Lato", "titleFont": "Lato", "labelFontWeight": "bold", "titleFontWeight": "bold", "labelFontSize": 10.5, "titleFontSize": 10.5, "tickSize": 4, "labelOverlap": false, "labelFlush": false},
"title": {"font": "Lato", "fontWeight": "bold", "fontSize": 11.5, "color": "black", "frame": "group"},
"text": {"font": "Lato", "fontWeight": "bold", "fontSize": 10.5, "color": "black"}
}
}
